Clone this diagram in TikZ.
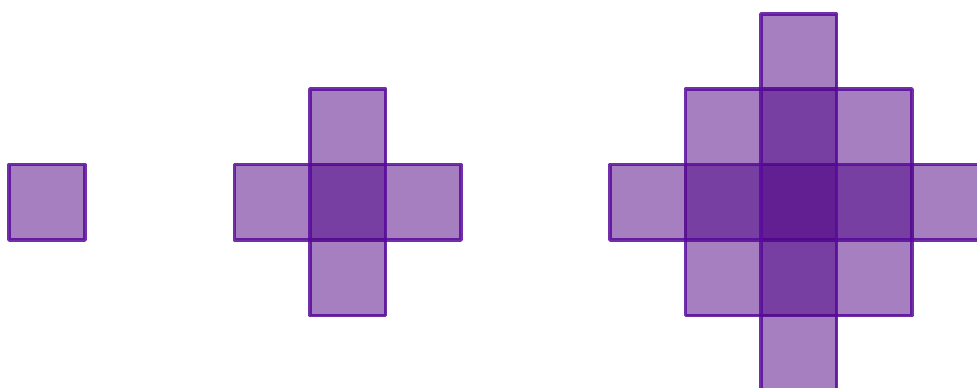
\documentclass[tikz,border=0pt]{standalone}
\definecolor{indig}{RGB}{75,0,130}
\definecolor{edgec}{RGB}{88,10,155}
\begin{document}
\begin{tikzpicture}[x=1pt,y=-1pt,
  tile/.style={fill=indig,fill opacity=0.5,draw=edgec,draw opacity=0.85,line width=3.6pt,line join=round,line cap=round}]
\useasboundingbox (0,0) rectangle (977,388);
\clip (0,0) rectangle (977,388);
\def\c{75.5}
% figure 1
\path[tile] (9,164.5) rectangle ++(76,\c);
% figure 2
\path[tile] (234.5,164.5) rectangle ++(3*\c,\c);
\path[tile] (310,89) rectangle ++(\c,3*\c);
% figure 3
\path[tile] (685.5,89) rectangle ++(3*\c,3*\c);
\path[tile] (610,164.5) rectangle ++(5*\c,\c);
\path[tile] (761,14) rectangle ++(\c,5*\c);
\end{tikzpicture}
\end{document}
